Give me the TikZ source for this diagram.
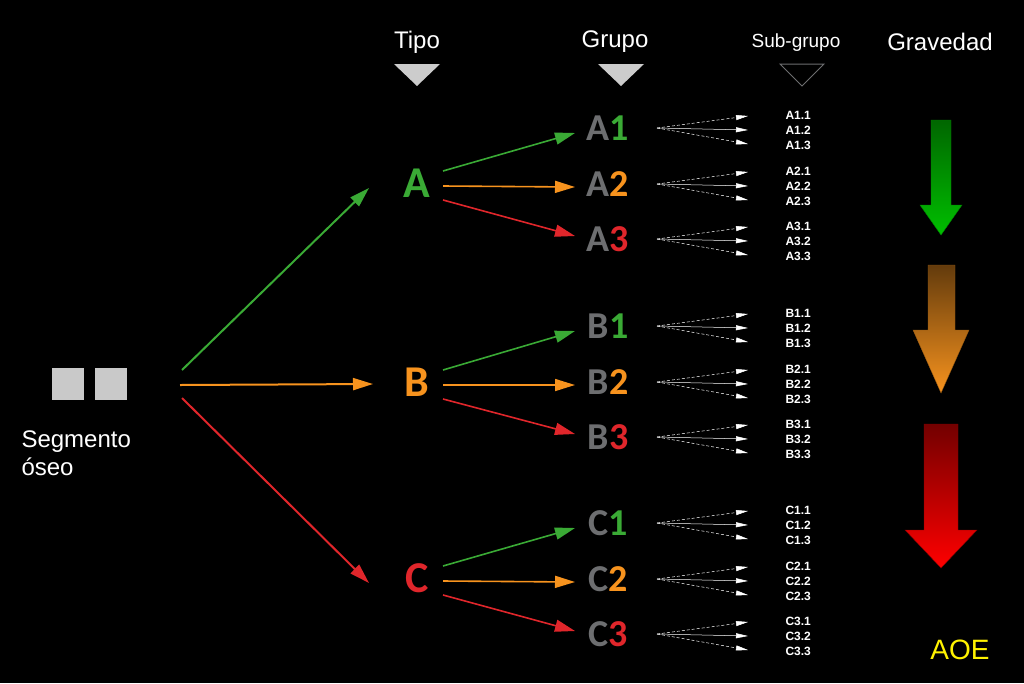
\documentclass[tikz,border=0pt]{standalone}
\usepackage{fontspec}
\setmainfont{Liberation Sans}
\newfontfamily\carlitofont{Carlito}
\usetikzlibrary{arrows.meta}
\definecolor{gg}{HTML}{3AAA35}
\definecolor{oo}{HTML}{F7931E}
\definecolor{rr}{HTML}{E0262B}
\definecolor{gy}{HTML}{6D6E70}
\begin{document}
\begin{tikzpicture}[x=1pt,y=-1pt,
  hdr/.style={text=white,font=\fontsize{24}{24}\selectfont},
  typ/.style={font=\carlitofont\fontsize{44}{44}\selectfont\bfseries},
  grp/.style={font=\carlitofont\fontsize{38}{38}\selectfont\bfseries,text=gy},
  sub/.style={text=white,font=\fontsize{12}{15}\selectfont\bfseries,align=left},
  arr/.style={-{Triangle[length=20pt,width=12pt]},line width=2pt},
  fan/.style={-{Triangle[length=12pt,width=5pt]},white,densely dashed,line width=0.5pt}]
\fill[black] (0,0) rectangle (1024,683);
\useasboundingbox (0,0) rectangle (1024,683);
% headers
\node[hdr] (h1) at (417,42) {Tipo};
\node[hdr] (h2) at (615,42) {Grupo};
\node[text=white,font=\fontsize{19}{19}\selectfont] (h3) at (796,43) {Sub-grupo};
\node[hdr] (h4) at (940,42) {Gravedad};
\fill[lightgray!80] (394,64) -- (440,64) -- (417,86) -- cycle;
\fill[lightgray!80] (598,64) -- (644,64) -- (621,86) -- cycle;
\draw[gy,line width=1pt] (780,64) -- (824,64) -- (802,86) -- cycle;
% segment
\draw[lightgray!85,fill=lightgray!85] (52,368) rectangle (83,399);
\draw[lightgray!85,fill=lightgray!85] (95,368) rectangle (126,399);
\node[text=white,font=\fontsize{24}{28}\selectfont,align=left,anchor=north west] (seg) at (18,427) {Segmento\\óseo};
\coordinate (o1) at (182,370);
\coordinate (o2) at (180,385);
\coordinate (o3) at (182,398);
% types
\node[typ,text=gg] (A) at (417,183) {A};
\node[typ,text=oo] (B) at (417,382) {B};
\node[typ,text=rr] (C) at (417,578) {C};
\coordinate (eA) at (369,188);
\coordinate (eB) at (373,384);
\coordinate (eC) at (369,583);
\draw[arr,gg] (o1) -- (eA);
\draw[arr,oo] (o2) -- (eB);
\draw[arr,rr] (o3) -- (eC);
% groups
\foreach \T/\y/\ty in {A/128/183,B/326/382,C/523/578}{
  \pgfmathsetmacro{\yb}{\y+56}\pgfmathsetmacro{\yc}{\y+111}
  \node[grp] (\T1) at (608,\y) {\T\textcolor{gg}{1}};
  \node[grp] (\T2) at (608,\yb) {\T\textcolor{oo}{2}};
  \node[grp] (\T3) at (608,\yc) {\T\textcolor{rr}{3}};
  \coordinate (s\T a) at (443,\ty-12);
  \coordinate (s\T b) at (443,\ty+3);
  \coordinate (s\T c) at (443,\ty+17);
  \coordinate (e\T a) at (575,\y+5);
  \coordinate (e\T b) at (575,\yb+3);
  \coordinate (e\T c) at (575,\yc-3);
  \draw[arr,gg,line width=1.6pt] (s\T a) -- (e\T a);
  \draw[arr,oo,line width=1.6pt] (s\T b) -- (e\T b);
  \draw[arr,rr,line width=1.6pt] (s\T c) -- (e\T c);
  \foreach \k/\yy in {1/\y,2/\yb,3/\yc}{
    \coordinate (f\T\k) at (657,\yy);
    \coordinate (t\T\k a) at (748,\yy-12);
    \coordinate (t\T\k b) at (748,\yy+2);
    \coordinate (t\T\k c) at (748,\yy+16);
    \draw[fan] (f\T\k) -- (t\T\k a);
    \draw[fan,solid] (f\T\k) -- (t\T\k b);
    \draw[fan] (f\T\k) -- (t\T\k c);
    \node[sub,anchor=west] (s\T\k) at (782,\yy+2) {\T\k.1\\\T\k.2\\\T\k.3};
  }
}
% severity arrows
\shade[top color=green!40!black,bottom color=green!75!black,draw=green!50!black]
  (931,120) -- (951,120) -- (951,205) -- (962,205) -- (941,235) -- (920,205) -- (931,205) -- cycle;
\shade[top color=oo!40!black,bottom color=oo,draw=oo!60!black]
  (928,265) -- (955,265) -- (955,330) -- (969,330) -- (941,393) -- (913,330) -- (928,330) -- cycle;
\shade[top color=red!45!black,bottom color=red,draw=red!50!black]
  (924,424) -- (958,424) -- (958,530) -- (977,530) -- (941,568) -- (905,530) -- (924,530) -- cycle;
\node[text=yellow,font=\fontsize{28}{28}\selectfont] (aoe) at (960,650) {AOE};
\end{tikzpicture}
\end{document}
